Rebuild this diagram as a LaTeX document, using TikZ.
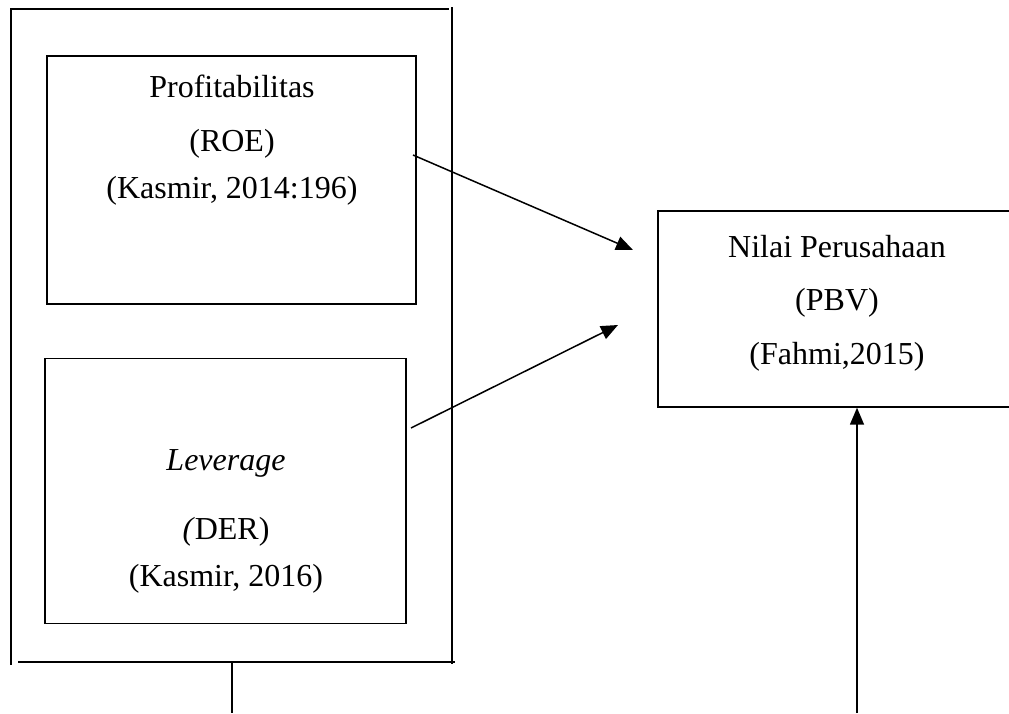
\documentclass[tikz,border=0pt]{standalone}
\usepackage{fontspec}
\setmainfont{Liberation Serif}
\usetikzlibrary{arrows.meta}
\begin{document}
\begin{tikzpicture}[x=1pt,y=-1pt,
  line width=1.4pt,
  boxnode/.style={draw,line width=1.4pt,inner sep=0pt},
  txt/.style={inner sep=0pt,font=\fontsize{32}{36}\selectfont},
  arr/.style={-{Triangle[length=17pt,width=14pt]},line width=1.5pt}]
\useasboundingbox (0,0) rectangle (1009,713);
% outer frame
\coordinate (tl) at (12,9);
\coordinate (tr) at (449,9);
\coordinate (lt) at (11,8);
\coordinate (lb) at (11,665);
\coordinate (rt) at (452,7);
\coordinate (rb) at (452,664);
\coordinate (bl) at (18,662);
\coordinate (br) at (455,662);
\coordinate (stemtop) at (232,662);
\coordinate (stembot) at (232,713);
\draw (tl) -- (tr);
\draw (lt) -- (lb);
\draw (rt) -- (rb);
\draw (bl) -- (br);
\draw (stemtop) -- (stembot);
% boxes
\node[boxnode,minimum width=369pt,minimum height=248pt] (roe) at (231.5,180) {};
\node[boxnode,minimum width=361pt,minimum height=265pt] (der) at (225.5,491) {};
\node[boxnode,minimum width=360pt,minimum height=196pt] (pbv) at (838,309) {};
% texts
\node[txt] (t1) at (232,86) {Profitabilitas};
\node[txt] (t2) at (232,144) {(ROE)};
\node[txt] (t3) at (232,191) {(Kasmir, 2014:196)};
\node[txt] (t4) at (226,463) {\textit{Leverage}};
\node[txt] (t5) at (226,532) {\textit{(}DER)};
\node[txt] (t6) at (226,579) {(Kasmir, 2016)};
\node[txt] (t7) at (837,247) {Nilai Perusahaan};
\node[txt] (t8) at (837,303) {(PBV)};
\node[txt] (t9) at (837,357) {(Fahmi,2015)};
% arrows
\coordinate (a1s) at (413,155);
\coordinate (a1e) at (633,250);
\coordinate (a2s) at (411,428);
\coordinate (a2e) at (618,325);
\coordinate (a3s) at (857,713);
\draw[arr] (a1s) -- (a1e);
\draw[arr] (a2s) -- (a2e);
\draw[arr] (a3s) -- (a3s |- pbv.south);
\end{tikzpicture}
\end{document}
